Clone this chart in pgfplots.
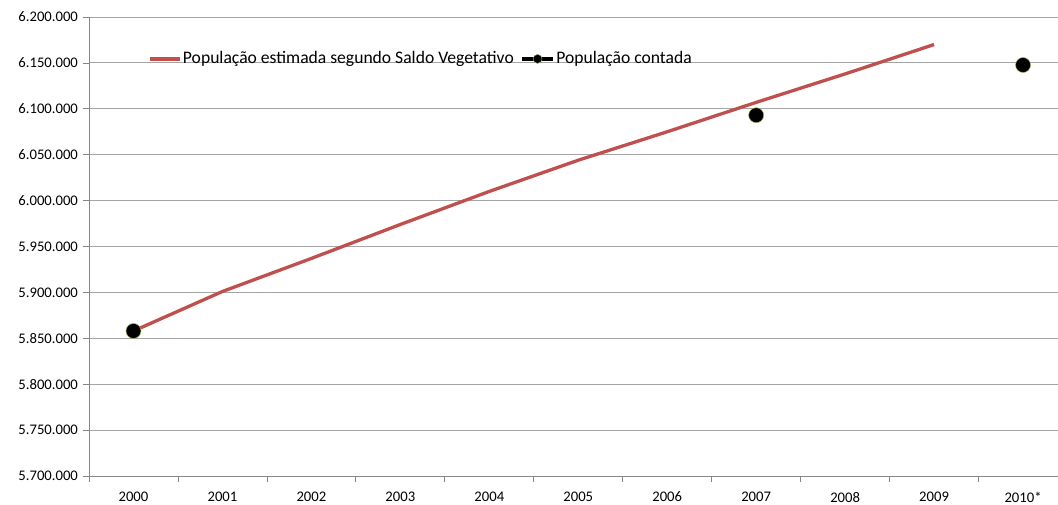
\documentclass[border=0pt]{standalone}
\usepackage{fontspec}
\setmainfont{Carlito}
\usepackage{pgfplots}
\pgfplotsset{compat=1.18}
\definecolor{exred}{RGB}{192,80,77}
\definecolor{axisc}{RGB}{134,134,134}
\definecolor{gridc}{RGB}{165,165,165}
\definecolor{mkedge}{RGB}{155,187,89}
\begin{document}
\fontsize{14.67bp}{17.6bp}\selectfont
\begin{tikzpicture}
\begin{axis}[
  at={(0,0)}, anchor=south west,
  scale only axis, width=969bp, height=459bp,
  xmin=-0.5, xmax=10.393, ymin=5700000, ymax=6200000,
  axis x line*=bottom, axis y line*=left,
  axis line style={draw=axisc, line width=0.75bp},
  xtick={0,...,10},
  xticklabels={2000,2001,2002,2003,2004,2005,2006,2007,2008,2009,2010*},
  xticklabel style={yshift=-5bp},
  minor xtick={-0.5,0.5,1.5,2.5,3.5,4.5,5.5,6.5,7.5,8.5,9.5},
  major x tick style={draw=none},
  tick align=outside,
  major tick length=6bp, minor tick length=6bp,
  tick style={draw=axisc, line width=0.75bp},
  ytick={5700000,5750000,5800000,5850000,5900000,5950000,6000000,6050000,6100000,6150000,6200000},
  scaled y ticks=false,
  yticklabel style={/pgf/number format/.cd, fixed, precision=0, 1000 sep={.}},
  /pgf/number format/assume math mode=true,
  ticklabel style={font=\fontsize{14.67bp}{17.6bp}\selectfont},
  ymajorgrids, grid style={draw=gridc, line width=0.9bp},
  legend style={at={(0.0578,0.9087)}, anchor=west, draw=none, fill=none,
    font=\fontsize{17.6bp}{21bp}\selectfont, nodes={inner xsep=1.5bp},
    /tikz/every even column/.append style={column sep=5bp}},
  legend columns=2, legend cell align=left,
]
\addplot[exred, line width=3.3bp, mark=none,
  legend image code/.code={\draw[exred,line width=3.3bp](0bp,0bp)--(30bp,0bp);}]
  coordinates {(0,5858000)(1,5901000)(2,5937000)(3,5974000)(4,6010000)(5,6044000)(6,6075000)(7,6107000)(8,6138000)(9,6170000)};
\addlegendentry{População estimada segundo Saldo Vegetativo}
\addplot[only marks, mark=*, mark size=7.5bp, mark options={fill=black, draw=mkedge, line width=0.5bp},
  legend image code/.code={\draw[black,line width=3.5bp](0bp,0bp)--(31bp,0bp); \fill[black,draw=mkedge,line width=0.4bp](15.5bp,0bp) circle(4.5bp);}]
  coordinates {(0,5858000)(7,6093000)(10,6147700)};
\addlegendentry{População contada}
\end{axis}
\pgfresetboundingbox
\path[use as bounding box] (-89bp,-29bp) rectangle (969bp,476bp);
\end{tikzpicture}
\end{document}
